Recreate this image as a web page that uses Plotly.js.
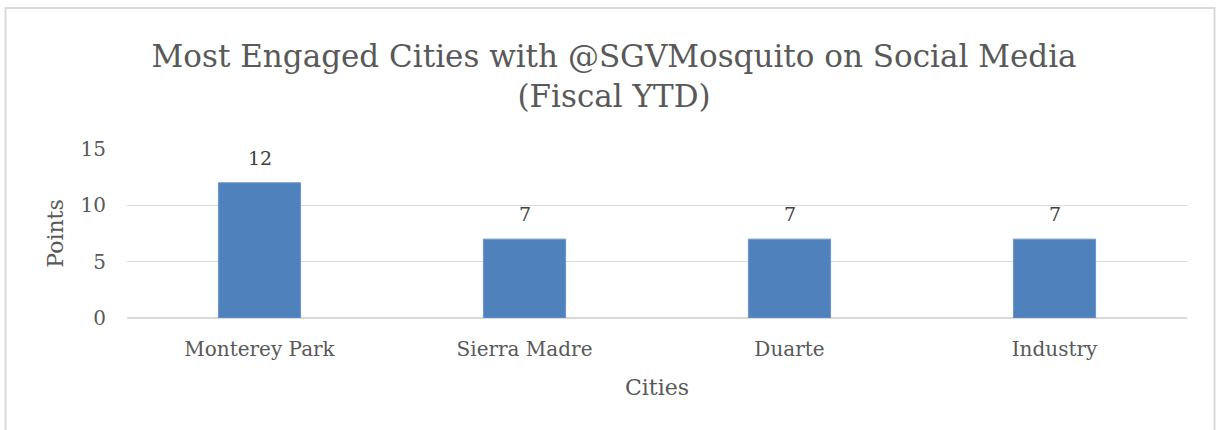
<!DOCTYPE html>
<html><head><meta charset="utf-8">
<script src="https://cdn.plot.ly/plotly-3.0.1.min.js"></script>
<style>html,body{margin:0;padding:0;background:#fff;}#chart{width:1216px;height:430px;}</style>
</head><body><div id="chart"></div>
<script>
const cities = ["Monterey Park", "Sierra Madre", "Duarte", "Industry"];
const points = [12, 7, 7, 7];
const yTicks = [0, 5, 10, 15];

const W = 1216, H = 430, L = 127, R = 29, T = 149, B = 112;
const pw = W - L - R, ph = H - T - B;
const px = v => (v - L) / pw;
const py = v => (H - B - v) / ph;
const font = "DejaVu Serif, Liberation Serif, serif";

Plotly.newPlot("chart", [{
  type: "bar", x: cities, y: points,
  marker: {color: "#4F81BD", line: {color: "#6A95CC", width: 1}},
  width: 0.31,
  hoverinfo: "none"
}], {
  width: W, height: H,
  margin: {l: L, r: R, t: T, b: B},
  paper_bgcolor: "#fff", plot_bgcolor: "#fff",
  font: {family: font, color: "#595959"},
  showlegend: false,
  title: {text: "Most Engaged Cities with @SGVMosquito on Social Media<br>(Fiscal YTD)",
          font: {family: font, size: 31, color: "#595959"},
          x: 0.505, xanchor: "center", yref: "container", y: 0.845, yanchor: "top"},
  xaxis: {showgrid: false, showline: false, zeroline: false, ticks: "",
          tickfont: {size: 20, color: "#595959"}, ticklabelstandoff: 17,
          title: {text: "Cities", font: {size: 22, color: "#595959"}, standoff: 19}},
  yaxis: {range: [0, 15], tickvals: yTicks, showgrid: true, gridcolor: "#D9D9D9", gridwidth: 1.5,
          zeroline: true, zerolinecolor: "#D9D9D9", zerolinewidth: 1.5,
          showline: false, ticks: "", ticklen: 0, ticklabelstandoff: 20,
          tickfont: {size: 20, color: "#595959"},
          title: {text: "Points", font: {size: 22, color: "#595959"}, standoff: 10}},
  annotations: cities.map((c, i) => ({
    x: c, y: points[i], xref: "x", yref: "y", text: String(points[i]),
    showarrow: false, yanchor: "bottom", yshift: 12,
    font: {family: font, size: 19, color: "#404040"}
  })),
  shapes: [{type: "rect", xref: "paper", yref: "paper",
            x0: px(5.5), x1: px(1214.5), y0: py(8), y1: py(440),
            line: {color: "#D9D9D9", width: 2}, fillcolor: "rgba(0,0,0,0)", layer: "below"}],
  bargap: 0.69
}, {staticPlot: true});
</script></body></html>
